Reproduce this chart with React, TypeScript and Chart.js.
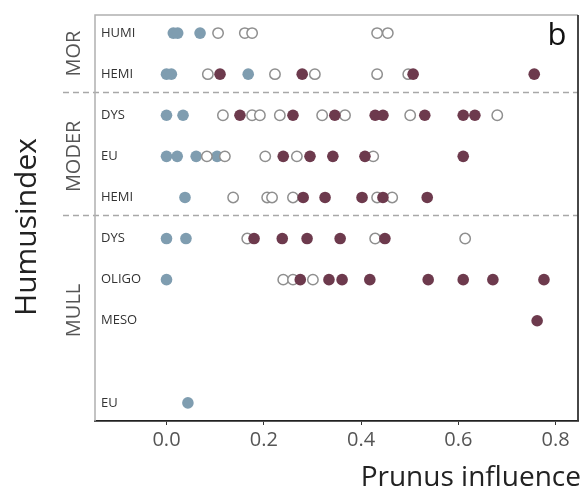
import { useEffect, useRef } from "react";
import { Chart, registerables } from "chart.js";

Chart.register(...registerables);

// Humus forms, top to bottom (the blank slot keeps MULL EU apart)
const rowLabels = ["HUMI", "HEMI", "DYS", "EU", "HEMI", "DYS", "OLIGO", "MESO", "", "EU"];
const groupLabels = ["MOR", "MODER", "MULL"];
const groupCenters = [0.5, 3, 6.75];
const groupDividers = [1.43, 4.43];
const xTicks = [0, 0.2, 0.4, 0.6, 0.8];

// blue filled points
const blueRow = [0, 0, 0, 1, 1, 1, 2, 2, 3, 3, 3, 3, 4, 5, 5, 6, 9];
const blueX = [0.014, 0.023, 0.069, 0.0, 0.01, 0.168, 0.0, 0.034, 0.0, 0.022, 0.061, 0.104, 0.038, 0.0, 0.04, 0.0, 0.044];

// open points
const openRow = [0, 0, 0, 0, 0, 1, 1, 1, 1, 1, 2, 2, 2, 2, 2, 2, 2, 2, 3, 3, 3, 3, 3, 4, 4, 4, 4, 4, 4, 5, 5, 5, 6, 6, 6];
const openX = [
  0.106, 0.161, 0.176, 0.433, 0.455,
  0.085, 0.223, 0.305, 0.433, 0.497,
  0.116, 0.176, 0.192, 0.233, 0.32, 0.367, 0.501, 0.68,
  0.083, 0.12, 0.203, 0.268, 0.425,
  0.137, 0.207, 0.217, 0.26, 0.433, 0.464,
  0.166, 0.429, 0.614,
  0.24, 0.26, 0.301,
];

// maroon filled points
const maroonRow = [1, 1, 1, 1, 2, 2, 2, 2, 2, 2, 2, 2, 3, 3, 3, 3, 3, 4, 4, 4, 4, 4, 5, 5, 5, 5, 5, 6, 6, 6, 6, 6, 6, 6, 6, 7];
const maroonX = [
  0.11, 0.279, 0.507, 0.756,
  0.151, 0.26, 0.346, 0.429, 0.445, 0.531, 0.61, 0.634,
  0.24, 0.295, 0.342, 0.408, 0.61,
  0.281, 0.326, 0.402, 0.445, 0.536,
  0.18, 0.238, 0.289, 0.357, 0.449,
  0.275, 0.334, 0.361, 0.418, 0.538, 0.61, 0.671, 0.776,
  0.762,
];

const FONT = "'Open Sans', 'Noto Sans', sans-serif";

const toPoints = (rows: number[], xs: number[]) => xs.map((x, i) => ({ x, y: rows[i] }));

const decor = {
  id: "decor",
  beforeDatasetsDraw(chart: any) {
    const { ctx, chartArea } = chart;
    const y = chart.scales.y;
    ctx.save();
    // dashed separators between humus groups
    ctx.strokeStyle = "#a8a8a8";
    ctx.lineWidth = 1.5;
    ctx.setLineDash([6, 4]);
    groupDividers.forEach((d) => {
      const py = Math.round(y.getPixelForValue(d)) + 0.5;
      ctx.beginPath();
      ctx.moveTo(63, py);
      ctx.lineTo(chartArea.right, py);
      ctx.stroke();
    });
    ctx.setLineDash([]);
    // frame: light top/left, dark right
    ctx.strokeStyle = "#b0b0b0";
    ctx.lineWidth = 1.5;
    ctx.beginPath();
    ctx.moveTo(chartArea.left, chartArea.bottom);
    ctx.lineTo(chartArea.left, chartArea.top);
    ctx.lineTo(chartArea.right, chartArea.top);
    ctx.stroke();
    ctx.strokeStyle = "#333";
    ctx.lineWidth = 1.8;
    ctx.beginPath();
    ctx.moveTo(chartArea.right, chartArea.top);
    ctx.lineTo(chartArea.right, chartArea.bottom);
    ctx.stroke();
    ctx.restore();
  },
  afterDraw(chart: any) {
    const { ctx, chartArea } = chart;
    const y = chart.scales.y;
    ctx.save();
    // group names
    ctx.fillStyle = "#555";
    ctx.font = `20px ${FONT}`;
    ctx.textAlign = "center";
    ctx.textBaseline = "middle";
    groupLabels.forEach((g, i) => {
      ctx.save();
      ctx.translate(74, y.getPixelForValue(groupCenters[i]));
      ctx.rotate(-Math.PI / 2);
      ctx.fillText(g, 0, 0);
      ctx.restore();
    });
    // axis titles
    ctx.fillStyle = "#222";
    ctx.font = `30px ${FONT}`;
    ctx.save();
    ctx.translate(27, 227);
    ctx.rotate(-Math.PI / 2);
    ctx.fillText("Humusindex", 0, 0);
    ctx.restore();
    ctx.font = `28px ${FONT}`;
    ctx.textAlign = "right";
    ctx.textBaseline = "alphabetic";
    ctx.fillText("Prunus influence", 581, 486);
    // panel letter
    ctx.fillStyle = "#111";
    ctx.font = `31px ${FONT}`;
    ctx.textAlign = "center";
    ctx.textBaseline = "middle";
    ctx.fillText("b", chartArea.right - 21, 36);
    ctx.restore();
  },
};

export default function App() {
  const ref = useRef<HTMLCanvasElement | null>(null);

  useEffect(() => {
    document.body.style.margin = "0";
    const canvas = ref.current;
    if (!canvas) return;
    const chart = new Chart(canvas, {
      type: "scatter",
      data: {
        datasets: [
          {
            data: toPoints(maroonRow, maroonX),
            backgroundColor: "#6d3a4d",
            borderColor: "#6d3a4d",
            borderWidth: 0,
            pointRadius: 5.8,
            order: 0,
          },
          {
            data: toPoints(openRow, openX),
            backgroundColor: "#ffffff",
            borderColor: "#8f8f8f",
            borderWidth: 1.5,
            pointRadius: 5.2,
            order: 1,
          },
          {
            data: toPoints(blueRow, blueX),
            backgroundColor: "#7f9db0",
            borderColor: "#7f9db0",
            borderWidth: 0,
            pointRadius: 5.8,
            order: 2,
          },
        ],
      },
      options: {
        responsive: false,
        animation: false,
        layout: { padding: { top: 15, right: 7, left: 0, bottom: 0 } },
        plugins: { legend: { display: false }, tooltip: { enabled: false } },
        scales: {
          x: {
            type: "linear",
            min: -0.147,
            max: 0.846,
            afterBuildTicks: (s: any) => {
              s.ticks = xTicks.map((v) => ({ value: v }));
            },
            afterFit: (s: any) => {
              s.height = 67;
            },
            ticks: {
              font: { family: FONT, size: 20 },
              color: "#555",
              padding: 3,
              callback: (v: any) => Number(v).toFixed(1),
            },
            grid: { display: true, drawOnChartArea: false, drawTicks: true, tickLength: 4, color: "#333" },
            border: { display: true, color: "#222", width: 1.8 },
          },
          y: {
            type: "linear",
            reverse: true,
            min: -0.44,
            max: 9.44,
            afterBuildTicks: (s: any) => {
              s.ticks = rowLabels.map((_, i) => ({ value: i }));
            },
            afterFit: (s: any) => {
              s.width = 95;
            },
            ticks: {
              mirror: true,
              padding: 6,
              font: { family: FONT, size: 13 },
              color: "#333",
              callback: (v: any) => rowLabels[v] ?? "",
            },
            grid: { display: false },
            border: { display: false },
          },
        },
      },
      plugins: [decor],
    });
    return () => chart.destroy();
  }, []);

  return (
    <div style={{ width: 585, height: 488, background: "#fff" }}>
      <canvas ref={ref} width={585} height={488} style={{ display: "block" }} />
    </div>
  );
}
